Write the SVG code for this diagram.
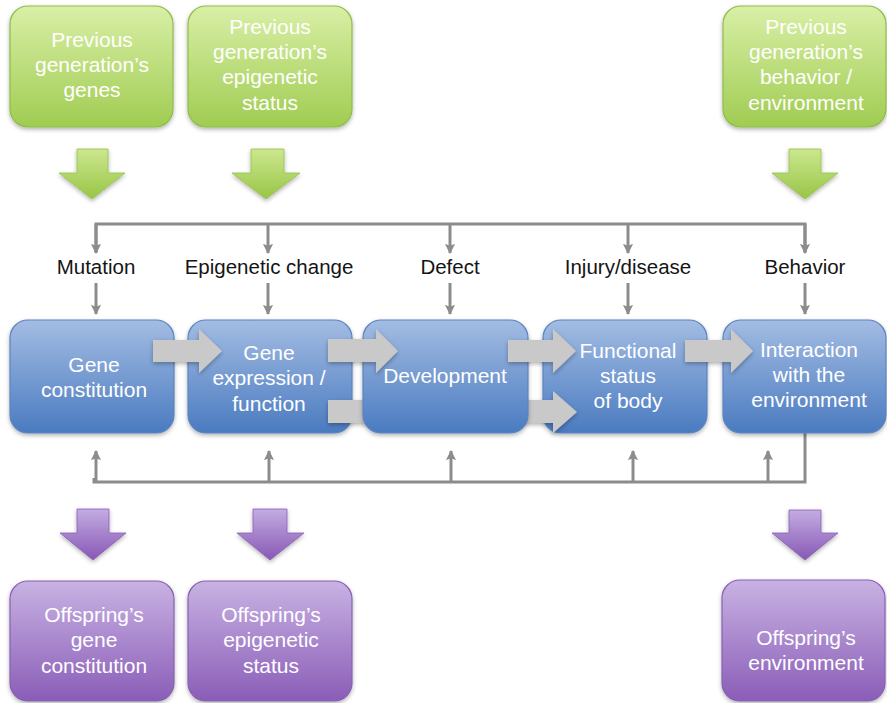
<svg xmlns="http://www.w3.org/2000/svg" width="887" height="703" viewBox="0 0 887 703">
  <defs>
    <linearGradient id="gGreen" x1="0" y1="0" x2="0" y2="1">
      <stop offset="0" stop-color="#d9efa6"/>
      <stop offset="1" stop-color="#a0cc52"/>
    </linearGradient>
    <linearGradient id="gBlue" x1="0" y1="0" x2="0" y2="1">
      <stop offset="0" stop-color="#a3bce3"/>
      <stop offset="1" stop-color="#4a7bc0"/>
    </linearGradient>
    <linearGradient id="gPurple" x1="0" y1="0" x2="0" y2="1">
      <stop offset="0" stop-color="#c8b2e3"/>
      <stop offset="1" stop-color="#8a5db7"/>
    </linearGradient>
    <linearGradient id="gGreenArrow" x1="0" y1="0" x2="0" y2="1">
      <stop offset="0" stop-color="#cce78f"/>
      <stop offset="1" stop-color="#98c546"/>
    </linearGradient>
    <linearGradient id="gPurpleArrow" x1="0" y1="0" x2="0" y2="1">
      <stop offset="0" stop-color="#c4ace2"/>
      <stop offset="1" stop-color="#8758b6"/>
    </linearGradient>
    <filter id="shadow" x="-10%" y="-10%" width="120%" height="130%">
      <feDropShadow dx="0" dy="2" stdDeviation="2" flood-color="#000" flood-opacity="0.3"/>
    </filter>
    <marker id="head" viewBox="0 0 10 10" refX="9" refY="5" markerWidth="3.4" markerHeight="3.4" orient="auto">
      <path d="M0,0 L10,5 L0,10 L2,5 Z" fill="#8c8c8c"/>
    </marker>
  </defs>
  <style>
    .green { fill: url(#gGreen); stroke: #8dbd48; stroke-width: 1.2; filter: url(#shadow); }
    .blue { fill: url(#gBlue); stroke: #5a84c2; stroke-width: 1.2; filter: url(#shadow); }
    .purple { fill: url(#gPurple); stroke: #8760b3; stroke-width: 1.2; filter: url(#shadow); }
    .garrow { fill: url(#gGreenArrow); stroke: #96c24a; stroke-width: 0.8; filter: url(#shadow); }
    .parrow { fill: url(#gPurpleArrow); stroke: #8a5eb6; stroke-width: 0.8; filter: url(#shadow); }
    .flow { fill: #c9c9c9; filter: url(#shadow); }
    .conn { fill: none; stroke: #8c8c8c; stroke-width: 3; }
    .arr { fill: none; stroke: #8c8c8c; stroke-width: 3; marker-end: url(#head); }
    .wt { font-family: "Liberation Sans", Arial, sans-serif; font-size: 21px; fill: #ffffff; text-anchor: middle; }
    .lbl { font-family: "Liberation Sans", Arial, sans-serif; font-size: 20.5px; fill: #141414; text-anchor: middle; }
  </style>

  <!-- previous generation inputs -->
  <g id="prev-genes">
    <rect class="green" x="10" y="6" width="163" height="121" rx="18"/>
    <text class="wt" x="92" y="47">Previous</text>
    <text class="wt" x="92" y="72">generation’s</text>
    <text class="wt" x="92" y="97">genes</text>
  </g>
  <g id="prev-epigenetic">
    <rect class="green" x="188" y="6" width="164" height="121" rx="18"/>
    <text class="wt" x="270" y="34">Previous</text>
    <text class="wt" x="270" y="59">generation’s</text>
    <text class="wt" x="270" y="84">epigenetic</text>
    <text class="wt" x="270" y="110">status</text>
  </g>
  <g id="prev-environment">
    <rect class="green" x="723" y="6" width="163" height="121" rx="18"/>
    <text class="wt" x="806" y="34">Previous</text>
    <text class="wt" x="806" y="59">generation’s</text>
    <text class="wt" x="806" y="84">behavior /</text>
    <text class="wt" x="806" y="110">environment</text>
  </g>

  <!-- green block arrows -->
  <g id="green-arrows">
    <path class="garrow" d="M77,149 H108 V173 H125 L92,199 L59,173 H77 Z"/>
    <path class="garrow" d="M251,149 H284 V173 H300 L266,199 L232,173 H251 Z"/>
    <path class="garrow" d="M789,149 H821 V173 H838 L805,199 L772,173 H789 Z"/>
  </g>

  <!-- influence connectors -->
  <g id="connectors">
    <path class="conn" d="M96,252 V224 H805 V252"/>
    <line class="arr" x1="96" y1="224" x2="96" y2="253"/>
    <line class="arr" x1="268" y1="224" x2="268" y2="253"/>
    <line class="arr" x1="450" y1="224" x2="450" y2="253"/>
    <line class="arr" x1="628" y1="224" x2="628" y2="253"/>
    <line class="arr" x1="805" y1="224" x2="805" y2="253"/>
    <line class="arr" x1="96" y1="283" x2="96" y2="314"/>
    <line class="arr" x1="268" y1="283" x2="268" y2="314"/>
    <line class="arr" x1="450" y1="283" x2="450" y2="314"/>
    <line class="arr" x1="628" y1="283" x2="628" y2="314"/>
    <line class="arr" x1="805" y1="283" x2="805" y2="314"/>
    <path class="conn" d="M805,433 V482 H94 V478"/>
    <line class="arr" x1="96" y1="482" x2="96" y2="451"/>
    <line class="arr" x1="269" y1="482" x2="269" y2="451"/>
    <line class="arr" x1="451" y1="482" x2="451" y2="451"/>
    <line class="arr" x1="633" y1="482" x2="633" y2="451"/>
    <line class="arr" x1="768" y1="482" x2="768" y2="451"/>
  </g>

  <g id="labels">
    <text class="lbl" x="96" y="274">Mutation</text>
    <text class="lbl" x="269" y="274">Epigenetic change</text>
    <text class="lbl" x="450" y="274">Defect</text>
    <text class="lbl" x="628" y="274">Injury/disease</text>
    <text class="lbl" x="805" y="274">Behavior</text>
  </g>

  <!-- main chain -->
  <g id="gene-constitution">
    <rect class="blue" x="10" y="320" width="164" height="113" rx="18"/>
    <text class="wt" x="94" y="372">Gene</text>
    <text class="wt" x="94" y="397">constitution</text>
  </g>
  <g id="gene-expression">
    <rect class="blue" x="188" y="320" width="164" height="113" rx="18"/>
    <text class="wt" x="269" y="360">Gene</text>
    <text class="wt" x="269" y="385">expression /</text>
    <text class="wt" x="269" y="411">function</text>
  </g>
  <g id="functional-status">
    <rect class="blue" x="543" y="320" width="164" height="113" rx="18"/>
    <text class="wt" x="628" y="358">Functional</text>
    <text class="wt" x="628" y="383">status</text>
    <text class="wt" x="628" y="408">of body</text>
  </g>
  <g id="interaction">
    <rect class="blue" x="723" y="320" width="163" height="113" rx="18"/>
    <text class="wt" x="809" y="357">Interaction</text>
    <text class="wt" x="809" y="382">with the</text>
    <text class="wt" x="809" y="407">environment</text>
  </g>

  <!-- bypass arrow running behind Development -->
  <path class="flow" d="M328,400 H553 V391 L577,412 L553,433 V423 H328 Z"/>

  <g id="development">
    <rect class="blue" x="363" y="320" width="165" height="113" rx="18"/>
    <text class="wt" x="445" y="383">Development</text>
  </g>

  <!-- grey flow arrows -->
  <g id="flow-arrows">
    <path class="flow" d="M153,340 H199 V329 L222,351 L199,373 V362 H153 Z"/>
    <path class="flow" d="M328,339 H376 V329 L398,351 L376,373 V362 H328 Z"/>
    <path class="flow" d="M508,340 H553 V329 L576,351 L553,373 V362 H508 Z"/>
    <path class="flow" d="M685,340 H731 V329 L753,351 L731,373 V362 H685 Z"/>
  </g>

  <!-- purple block arrows -->
  <g id="purple-arrows">
    <path class="parrow" d="M77,509 H109 V533 H126 L93,560 L60,533 H77 Z"/>
    <path class="parrow" d="M253,509 H287 V533 H304 L270,560 L237,533 H253 Z"/>
    <path class="parrow" d="M789,510 H821 V533 H838 L805,560 L772,533 H789 Z"/>
  </g>

  <!-- offspring outcomes -->
  <g id="off-genes">
    <rect class="purple" x="10" y="581" width="164" height="120" rx="18"/>
    <text class="wt" x="94" y="622">Offspring’s</text>
    <text class="wt" x="94" y="647">gene</text>
    <text class="wt" x="94" y="673">constitution</text>
  </g>
  <g id="off-epigenetic">
    <rect class="purple" x="188" y="581" width="164" height="120" rx="18"/>
    <text class="wt" x="271" y="622">Offspring’s</text>
    <text class="wt" x="271" y="647">epigenetic</text>
    <text class="wt" x="271" y="673">status</text>
  </g>
  <g id="off-environment">
    <rect class="purple" x="722" y="580" width="163" height="121" rx="18"/>
    <text class="wt" x="806" y="645">Offspring’s</text>
    <text class="wt" x="806" y="670">environment</text>
  </g>
</svg>
